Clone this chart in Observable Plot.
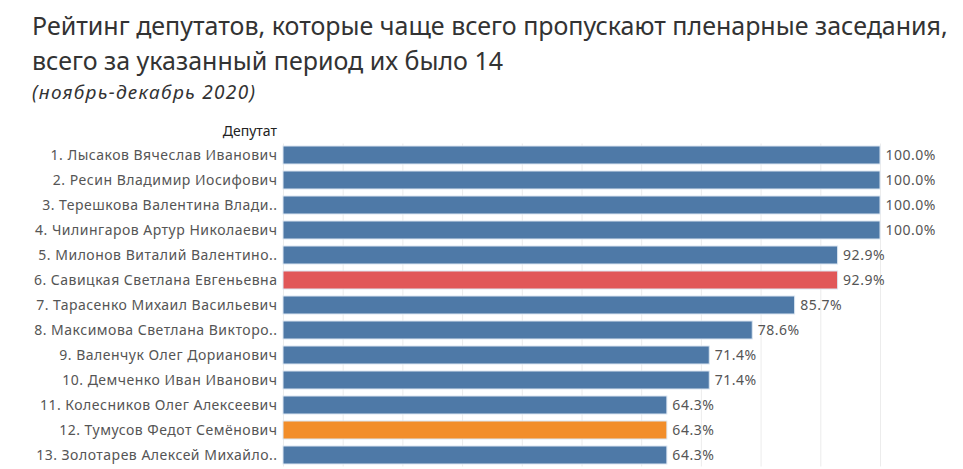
<!DOCTYPE html>
<html><head><meta charset="utf-8">
<script src="https://cdn.jsdelivr.net/npm/d3@7"></script>
<script src="https://cdn.jsdelivr.net/npm/@observablehq/plot@0.6"></script>
<style>
body{margin:0;background:#fff;font-family:"Noto Sans",sans-serif;}
#wrap{position:relative;width:963px;height:469px;overflow:hidden;}
.t{position:absolute;left:32px;color:#333;font-size:25px;white-space:nowrap;}
#sub{position:absolute;left:32px;top:79px;font-size:19px;font-style:italic;color:#333;letter-spacing:1.3px;white-space:nowrap;}
#hdr{position:absolute;right:686px;top:121px;font-size:14px;color:#222;z-index:2;font-weight:normal;}
#chart{position:absolute;left:0;top:120px;z-index:1;}
</style></head><body>
<div id="wrap">
<div class="t" style="top:8px">Рейтинг депутатов, которые чаще всего пропускают пленарные заседания,</div>
<div class="t" style="top:43px">всего за указанный период их было 14</div>
<div id="sub">(ноябрь-декабрь 2020)</div>
<div id="chart"></div>
<div id="hdr">Депутат</div>
</div>
<script>
const deputies = [
 "1. Лысаков Вячеслав Иванович",
 "2. Ресин Владимир Иосифович",
 "3. Терешкова Валентина Влади..",
 "4. Чилингаров Артур Николаевич",
 "5. Милонов Виталий Валентино..",
 "6. Савицкая Светлана Евгеньевна",
 "7. Тарасенко Михаил Васильевич",
 "8. Максимова Светлана Викторо..",
 "9. Валенчук Олег Дорианович",
 "10. Демченко Иван Иванович",
 "11. Колесников Олег Алексеевич",
 "12. Тумусов Федот Семёнович",
 "13. Золотарев Алексей Михайло.."
];
const shares = [100.0, 100.0, 100.0, 100.0, 92.9, 92.9, 85.7, 78.6, 71.4, 71.4, 64.3, 64.3, 64.3];
const groups = ["base","base","base","base","base","red","base","base","base","base","base","orange","base"];
const groupNames = ["base","red","orange"];
const groupColors = ["#4e79a7","#e15759","#f28e2b"];

const data = deputies.map((d,i)=>({name:d, value:shares[i], group:groups[i]}));

const chart = Plot.plot({
  width: 963, height: 349,
  marginLeft: 283, marginRight: 83, marginTop: 23.5, marginBottom: 2.5,
  style: {fontFamily: "Noto Sans, sans-serif", fontSize: "14px", color: "#555", background: "#fff", letterSpacing: "0.5px"},
  x: {domain: [0, 100], axis: null},
  y: {domain: deputies, paddingInner: 0.28, paddingOuter: 0.1, label: null, tickSize: 0, tickPadding: 6},
  color: {domain: groupNames, range: groupColors},
  marks: [
    Plot.gridX({ticks: 10, stroke: "#ececec", strokeOpacity: 1}),
    Plot.barX(data, {x: "value", y: "name", fill: "group", stroke: "#dbe6f1", strokeWidth: 1}),
    Plot.text(data, {x: "value", y: "name", text: d => d.value.toFixed(1) + "%", textAnchor: "start", dx: 5, fill: "#555"})
  ]
});
document.getElementById("chart").appendChild(chart);
</script>
</body></html>
